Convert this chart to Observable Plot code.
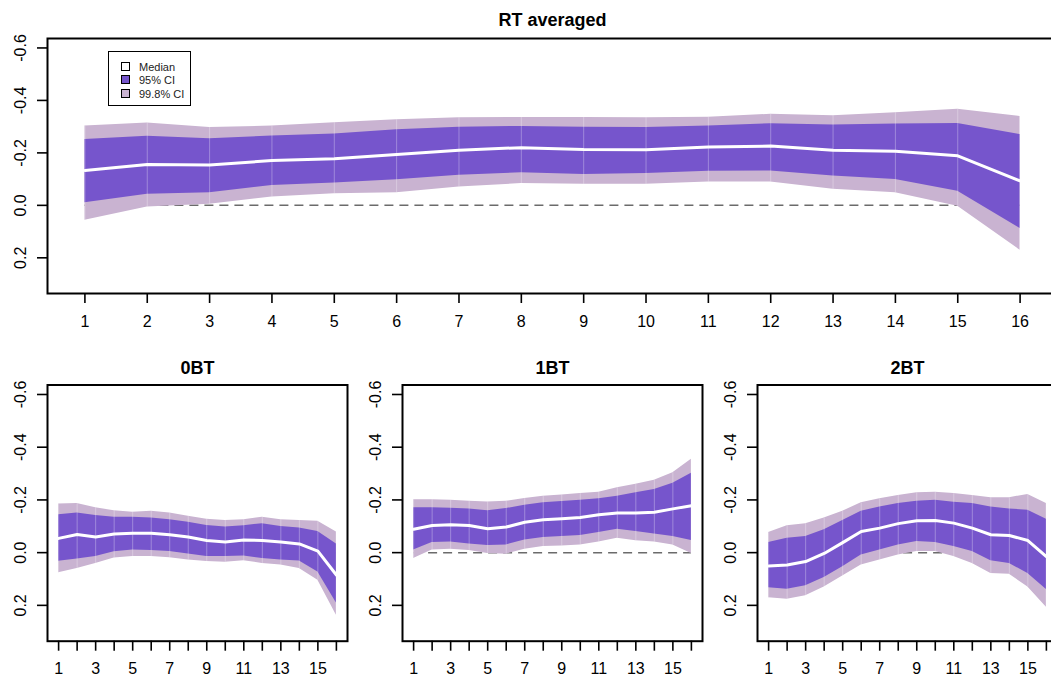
<!DOCTYPE html>
<html>
<head>
<meta charset="utf-8">
<script src="https://cdn.jsdelivr.net/npm/d3@7"></script>
<script src="https://cdn.jsdelivr.net/npm/@observablehq/plot@0.6"></script>
<style>
html, body { margin: 0; padding: 0; overflow: hidden; background: #fff; width: 1051px; height: 676px; }
#wrap { position: relative; width: 1065px; height: 676px; font-family: "Liberation Sans", Arial, Helvetica, sans-serif; }
.panel { position: absolute; }
.legend { position: absolute; left: 108px; top: 51px; width: 83px; height: 55px; box-sizing: border-box; border: 1.5px solid #000; background: #fff; font-size: 11px; color: #222; }
.legend .row { position: absolute; left: 12px; height: 12px; line-height: 12px; white-space: nowrap; }
.legend .sw { display: inline-block; width: 7px; height: 7px; border: 1px solid #000; vertical-align: middle; margin-right: 9px; position: relative; top: -1px; }
</style>
</head>
<body>
<div id="wrap"></div>
<script>
// ---- data ----
const timePoints = [1, 2, 3, 4, 5, 6, 7, 8, 9, 10, 11, 12, 13, 14, 15, 16];
const yTicks = [-0.6, -0.4, -0.2, 0, 0.2];
const yTickLabels = ["-0.6", "-0.4", "-0.2", "0.0", "0.2"];
const topXLabels = ["1","2","3","4","5","6","7","8","9","10","11","12","13","14","15","16"];
const bottomXLabels = ["1","","3","","5","","7","","9","","11","","13","","15",""];
const legendLabels = ["Median", "95% CI", "99.8% CI"];

// RT averaged
const rtHi99 = [-0.302,-0.314,-0.297,-0.302,-0.315,-0.326,-0.334,-0.335,-0.335,-0.334,-0.336,-0.347,-0.342,-0.353,-0.366,-0.339];
const rtHi95 = [-0.251,-0.263,-0.254,-0.264,-0.272,-0.288,-0.298,-0.301,-0.298,-0.297,-0.302,-0.311,-0.306,-0.310,-0.312,-0.270];
const rtMed  = [-0.133,-0.156,-0.154,-0.171,-0.178,-0.194,-0.210,-0.220,-0.213,-0.212,-0.222,-0.226,-0.210,-0.206,-0.189,-0.093];
const rtLo95 = [-0.010,-0.042,-0.048,-0.076,-0.085,-0.098,-0.115,-0.124,-0.118,-0.121,-0.130,-0.131,-0.112,-0.099,-0.054,0.088];
const rtLo99 = [0.057,0.006,-0.004,-0.032,-0.044,-0.048,-0.070,-0.083,-0.080,-0.080,-0.089,-0.089,-0.061,-0.048,0.003,0.171];

// 0BT
const bt0Hi99 = [-0.185,-0.186,-0.170,-0.159,-0.153,-0.157,-0.150,-0.138,-0.127,-0.122,-0.125,-0.134,-0.125,-0.122,-0.119,-0.078];
const bt0Hi95 = [-0.144,-0.150,-0.141,-0.134,-0.134,-0.131,-0.125,-0.115,-0.103,-0.097,-0.102,-0.110,-0.099,-0.093,-0.080,-0.033];
const bt0Med  = [-0.054,-0.069,-0.059,-0.071,-0.074,-0.074,-0.068,-0.059,-0.046,-0.040,-0.048,-0.046,-0.040,-0.033,-0.006,0.085];
const bt0Lo95 = [0.033,0.024,0.015,-0.003,-0.010,-0.008,-0.004,0.005,0.015,0.015,0.013,0.022,0.028,0.032,0.073,0.191];
const bt0Lo99 = [0.076,0.060,0.041,0.020,0.015,0.015,0.019,0.028,0.034,0.036,0.031,0.041,0.047,0.060,0.105,0.238];

// 1BT
const bt1Hi99 = [-0.201,-0.201,-0.199,-0.195,-0.192,-0.195,-0.205,-0.214,-0.219,-0.224,-0.229,-0.246,-0.259,-0.275,-0.303,-0.354];
const bt1Hi95 = [-0.170,-0.170,-0.168,-0.166,-0.159,-0.167,-0.180,-0.189,-0.194,-0.199,-0.204,-0.214,-0.227,-0.240,-0.263,-0.301];
const bt1Med  = [-0.089,-0.103,-0.106,-0.103,-0.091,-0.097,-0.115,-0.125,-0.129,-0.133,-0.144,-0.150,-0.150,-0.153,-0.166,-0.178];
const bt1Lo95 = [-0.010,-0.038,-0.040,-0.033,-0.027,-0.029,-0.048,-0.057,-0.061,-0.065,-0.076,-0.089,-0.080,-0.071,-0.061,-0.046];
const bt1Lo99 = [0.022,-0.010,-0.013,-0.008,0.003,0.006,-0.013,-0.023,-0.025,-0.029,-0.040,-0.055,-0.045,-0.040,-0.029,0.003];

// 2BT
const bt2Hi99 = [-0.076,-0.102,-0.110,-0.131,-0.157,-0.189,-0.204,-0.217,-0.227,-0.229,-0.224,-0.217,-0.208,-0.208,-0.221,-0.186];
const bt2Hi95 = [-0.038,-0.055,-0.061,-0.087,-0.122,-0.157,-0.173,-0.186,-0.195,-0.199,-0.191,-0.186,-0.173,-0.166,-0.161,-0.127];
const bt2Med  = [0.051,0.047,0.034,0.003,-0.038,-0.080,-0.093,-0.110,-0.121,-0.122,-0.112,-0.093,-0.068,-0.065,-0.046,0.015];
const bt2Lo95 = [0.133,0.139,0.126,0.094,0.054,0.009,-0.010,-0.029,-0.042,-0.038,-0.023,-0.004,0.031,0.041,0.079,0.140];
const bt2Lo99 = [0.171,0.177,0.164,0.130,0.089,0.047,0.028,0.009,-0.004,-0.004,0.015,0.041,0.079,0.082,0.130,0.207];

const DARK = "#7655cc";
const LIGHT = "#c9b3d1";
const FONT = '"Liberation Sans", Arial, Helvetica, sans-serif';

function panel({title, hi99, hi95, med, lo95, lo99, width, height, mt, mb, xLabels, titleDy, xLabDy}) {
  const rows = timePoints.map((t, i) => ({t, hi99: hi99[i], hi95: hi95[i], med: med[i], lo95: lo95[i], lo99: lo99[i]}));
  const xLab = timePoints.map((t, i) => ({t, label: xLabels[i]})).filter(d => d.label !== "");
  const yLab = yTicks.map((v, i) => ({v, label: yTickLabels[i]}));
  return Plot.plot({
    width, height,
    marginTop: mt, marginBottom: mb, marginLeft: 47, marginRight: 8,
    style: {fontFamily: FONT, background: "white", overflow: "visible", color: "black"},
    x: {domain: [0.4, 16.6], label: null},
    y: {domain: [0.336, -0.636], label: null},
    marks: [
      Plot.ruleY([0], {x1: 1, x2: 16, stroke: "#6b6b6b", strokeWidth: 1.5, strokeDasharray: "9,6"}),
      Plot.areaY(rows, {x: "t", y1: "lo99", y2: "hi99", fill: LIGHT}),
      Plot.areaY(rows, {x: "t", y1: "lo95", y2: "hi95", fill: DARK}),
      Plot.ruleX(rows, {x: "t", y1: "lo99", y2: "hi99", stroke: "white", strokeOpacity: 0.3, strokeWidth: 1}),
      Plot.lineY(rows, {x: "t", y: "med", stroke: "white", strokeWidth: 3}),
      Plot.frame({stroke: "black", strokeWidth: 2}),
      Plot.axisX({ticks: timePoints, tickSize: 10, tickFormat: () => "", strokeWidth: 1.6, label: null}),
      Plot.axisY({ticks: yTicks, tickSize: 10, tickFormat: () => "", strokeWidth: 1.6, label: null}),
      Plot.text(xLab, {x: "t", text: "label", frameAnchor: "bottom", dy: xLabDy, fontSize: 16, lineAnchor: "middle", fill: "black"}),
      Plot.text(yLab, {y: "v", text: "label", frameAnchor: "left", dx: -27, rotate: -90, fontSize: 16, textAnchor: "middle", lineAnchor: "middle", fill: "black"}),
      Plot.text([title], {frameAnchor: "top", dy: titleDy, fontSize: 18, fontWeight: "bold", lineAnchor: "middle", fill: "black"})
    ]
  });
}

const wrap = document.getElementById("wrap");
function place(el, left, top) {
  const d = document.createElement("div");
  d.className = "panel";
  d.style.left = left + "px";
  d.style.top = top + "px";
  d.appendChild(el);
  wrap.appendChild(d);
}

place(panel({title: "RT averaged", hi99: rtHi99, hi95: rtHi95, med: rtMed, lo95: rtLo95, lo99: rtLo99,
  width: 1065, height: 345, mt: 38, mb: 52, xLabels: topXLabels, titleDy: -18, xLabDy: 28.7}), 0, 0);

const bottoms = [
  {title: "0BT", hi99: bt0Hi99, hi95: bt0Hi95, med: bt0Med, lo95: bt0Lo95, lo99: bt0Lo99},
  {title: "1BT", hi99: bt1Hi99, hi95: bt1Hi95, med: bt1Med, lo95: bt1Lo95, lo99: bt1Lo99},
  {title: "2BT", hi99: bt2Hi99, hi95: bt2Hi95, med: bt2Med, lo95: bt2Lo95, lo99: bt2Lo99}
];
bottoms.forEach((b, i) => {
  place(panel({...b, width: 355, height: 331, mt: 39.5, mb: 35.3, xLabels: bottomXLabels, titleDy: -16.5, xLabDy: 27.3}), i * 355, 345);
});

// legend
const lg = document.createElement("div");
lg.className = "legend";
const swatches = ["#ffffff", DARK, LIGHT];
const rowTops = [8.5, 21.5, 35.5];
legendLabels.forEach((lab, i) => {
  const r = document.createElement("div");
  r.className = "row";
  r.style.top = rowTops[i] + "px";
  const s = document.createElement("span");
  s.className = "sw";
  s.style.background = swatches[i];
  r.appendChild(s);
  r.appendChild(document.createTextNode(lab));
  lg.appendChild(r);
});
wrap.appendChild(lg);
</script>
</body>
</html>
